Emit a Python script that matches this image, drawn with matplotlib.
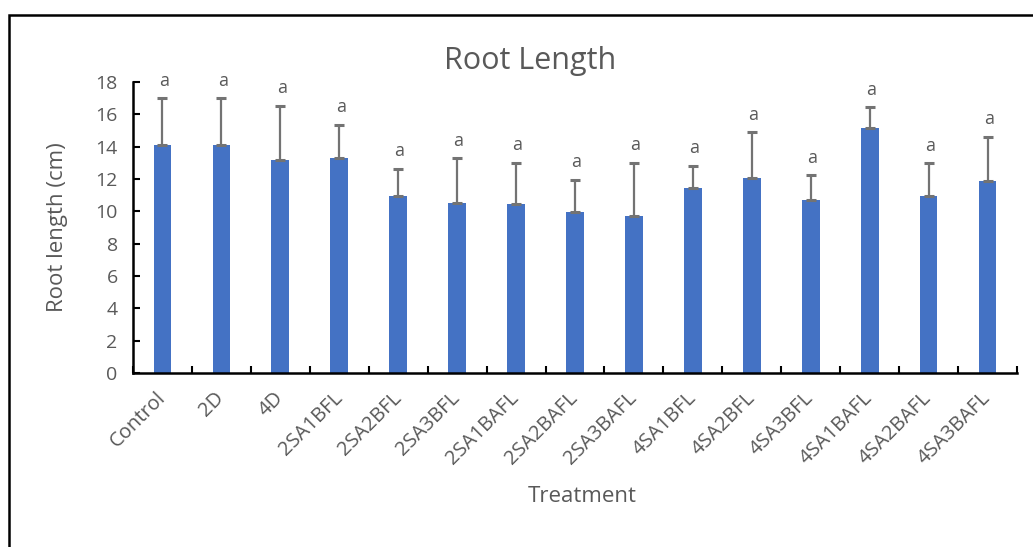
import matplotlib
matplotlib.use("Agg")
import matplotlib.pyplot as plt
from matplotlib.patches import Rectangle
import numpy as np

plt.rcParams['font.family'] = ['Open Sans', 'DejaVu Sans']

treatments = ["Control", "2D", "4D", "2SA1BFL", "2SA2BFL", "2SA3BFL",
              "2SA1BAFL", "2SA2BAFL", "2SA3BAFL", "4SA1BFL", "4SA2BFL",
              "4SA3BFL", "4SA1BAFL", "4SA2BAFL", "4SA3BAFL"]
root_length = [14.12, 14.12, 13.15, 13.29, 10.94, 10.51,
               10.45, 9.93, 9.72, 11.47, 12.05,
               10.69, 15.13, 10.94, 11.87]
std_error = [2.88, 2.88, 3.38, 2.07, 1.69, 2.78,
             2.57, 2.02, 3.30, 1.35, 2.83,
             1.54, 1.30, 2.02, 2.74]
letters = ["a"] * len(treatments)

text_gray = "#595959"
bar_blue = "#4472C4"

fig = plt.figure(figsize=(10.33, 5.47), dpi=100)
ax = fig.add_axes([133 / 1033, 1 - 373 / 547, (1017 - 133) / 1033, (373 - 82) / 547])

x = np.arange(len(treatments))
ax.bar(x, root_length, width=0.30, color=bar_blue, zorder=2)
ax.errorbar(x, root_length, yerr=[np.zeros(len(x)), std_error], fmt="none",
            ecolor="#737373", elinewidth=1.6, capsize=3.5, capthick=2.2, zorder=3)

for xi, top, err, lab in zip(x, root_length, std_error, letters):
    ax.annotate(lab, (xi, top + err), xytext=(1, 6), textcoords="offset points",
                ha="center", va="bottom", fontsize=13, color=text_gray)

ax.set_xlim(-0.5, len(treatments) - 0.5)
ax.set_ylim(0, 18)
ax.set_yticks(np.arange(0, 19, 2))

ax.set_xticks(x)
ax.set_xticklabels(treatments, rotation=45, ha="right", va="center",
                   rotation_mode="anchor", fontsize=14.5, color=text_gray)
ax.set_xticks(np.arange(-0.5, len(treatments), 1), minor=True)
ax.tick_params(axis="x", which="major", length=0, pad=16)
ax.tick_params(axis="x", which="minor", direction="in", length=5, width=1.5, color="black")
ax.tick_params(axis="y", direction="in", length=5, width=1.5, color="black",
               labelsize=14, labelcolor=text_gray, pad=11)

for side in ["top", "right"]:
    ax.spines[side].set_visible(False)
for side in ["left", "bottom"]:
    ax.spines[side].set_linewidth(1.8)
    ax.spines[side].set_color("black")

ax.set_ylabel("Root length (cm)", fontsize=16, color=text_gray)
ax.yaxis.set_label_coords(-0.073, 0.5)

fig.text(582 / 1033, 1 - 497 / 547, "Treatment", ha="center", va="center",
         fontsize=16, color=text_gray)
fig.text(530 / 1033, 1 - 61 / 547, "Root Length", ha="center", va="center",
         fontsize=22, color=text_gray)

# chart area border
fig.patches.append(Rectangle((9 / 1033, -0.2), 1.2, 1 - 15 / 547 + 0.2,
                             transform=fig.transFigure, fill=False,
                             edgecolor="black", linewidth=1.8))

fig.savefig("out.png", dpi=100)
